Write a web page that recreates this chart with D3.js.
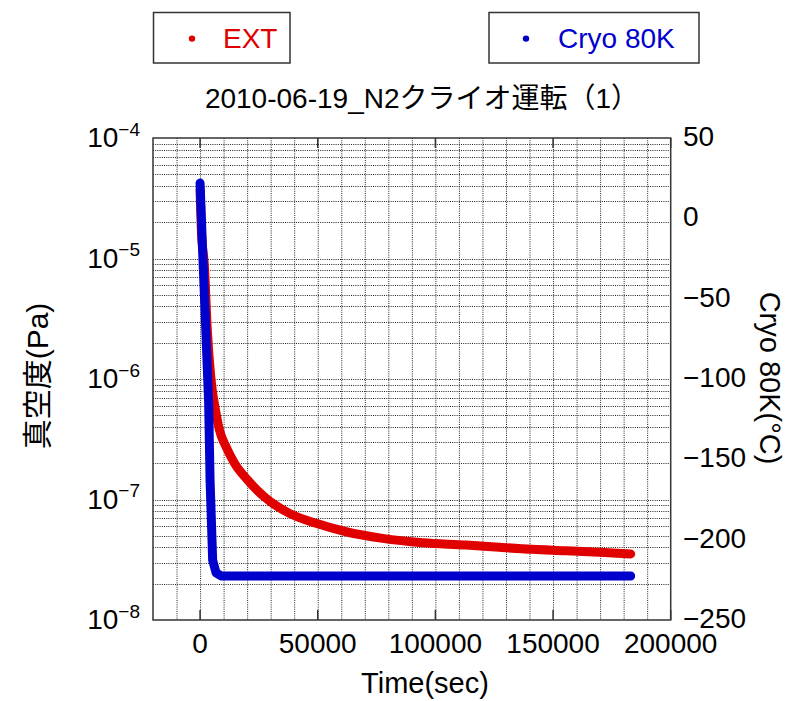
<!DOCTYPE html>
<html>
<head>
<meta charset="utf-8">
<script src="https://cdn.jsdelivr.net/npm/d3@7"></script>
<style>
  html, body { margin: 0; padding: 0; background: #fff; }
  svg text { font-family: "Liberation Sans", Arial, "Noto Sans CJK JP", sans-serif; }
</style>
</head>
<body>
<svg id="chart" width="787" height="701"></svg>
<script>
// ---- data ----
const chartTitle = "2010-06-19_N2クライオ運転（1）";
const seriesNames = ["EXT", "Cryo 80K"];
const seriesColors = ["#e00000", "#0000cc"];

// EXT vacuum pressure (Pa) against elapsed time (sec)
const extTime = [0, 550, 1830, 3100, 4680, 6800, 8200, 11050, 14580, 20230, 27330,
  37960, 49300, 62060, 77620, 94500, 113070, 127220, 141250, 155580, 169730, 183000];
const extPa = [3.7e-5, 1.73e-5, 8.7e-6, 2.5e-6, 9.8e-7, 5.2e-7, 3.8e-7, 2.74e-7, 2.01e-7, 1.45e-7, 1.05e-7,
  7.67e-8, 6.34e-8, 5.40e-8, 4.76e-8, 4.38e-8, 4.19e-8, 4.01e-8, 3.86e-8, 3.76e-8, 3.65e-8, 3.53e-8];

// Cryo 80K stage temperature (°C) against elapsed time (sec)
const cryoTime = [0, 850, 2550, 3650, 4250, 5350, 6800, 9000, 50000, 100000, 150000, 183000];
const cryoC = [22, -11.4, -73.7, -114.9, -162.9, -212.7, -220.7, -222.6, -222.6, -222.6, -222.6, -222.6];

// axis ticks
const xTicks = [0, 50000, 100000, 150000, 200000];
const xGrid = d3.range(-10000, 200000, 10000);
const leftDecades = [-8, -7, -6, -5, -4];
const rightTicks = [50, 0, -50, -100, -150, -200, -250];

// ---- layout ----
const L = 153, R = 670.7, T = 138, B = 620;
const svg = d3.select("#chart");

const x = d3.scaleLinear().domain([-20000, 200000]).range([L, R]);
const yL = d3.scaleLog().domain([1e-8, 1e-4]).range([B, T]);
const yR = d3.scaleLinear().domain([-250, 50]).range([B, T]);

// dotted grid
const grid = svg.append("g")
  .attr("stroke", "#222").attr("stroke-width", 1).attr("stroke-dasharray", "1,1.2");
grid.selectAll("line.v").data(xGrid).join("line")
  .attr("x1", d => x(d) + 0.5).attr("x2", d => x(d) + 0.5)
  .attr("y1", T).attr("y2", B);
const logLines = [];
for (let e = -8; e < -4; e++) {
  for (let m = 1; m <= 9; m++) {
    if (m === 1 && e === -8) continue;
    logLines.push(m * Math.pow(10, e));
  }
}
grid.selectAll("line.h").data(logLines).join("line")
  .attr("x1", L).attr("x2", R)
  .attr("y1", d => Math.round(yL(d)) + 0.5).attr("y2", d => Math.round(yL(d)) + 0.5);

// series
const plot = svg.append("g");
const extLine = d3.line().x((d, i) => x(extTime[i])).y(d => yL(d)).curve(d3.curveMonotoneX);
const cryoLine = d3.line().x((d, i) => x(cryoTime[i])).y(d => yR(d)).curve(d3.curveLinear);
plot.append("path").attr("d", extLine(extPa))
  .attr("fill", "none").attr("stroke", seriesColors[0]).attr("stroke-width", 9)
  .attr("stroke-linecap", "round").attr("stroke-linejoin", "round");
plot.append("path").attr("d", cryoLine(cryoC))
  .attr("fill", "none").attr("stroke", seriesColors[1]).attr("stroke-width", 9)
  .attr("stroke-linecap", "round").attr("stroke-linejoin", "round");

// frame
svg.append("rect").attr("x", L).attr("y", T).attr("width", R - L).attr("height", B - T)
  .attr("fill", "none").attr("stroke", "#333").attr("stroke-width", 1.5);

// x ticks (inside, top and bottom)
const tk = svg.append("g").attr("stroke", "#333").attr("stroke-width", 1.5);
xTicks.forEach(d => {
  tk.append("line").attr("x1", x(d)).attr("x2", x(d)).attr("y1", B).attr("y2", B - 10);
  tk.append("line").attr("x1", x(d)).attr("x2", x(d)).attr("y1", T).attr("y2", T + 10);
});

// tick labels
const fs = 28;
svg.append("g").selectAll("text").data(xTicks).join("text")
  .attr("x", d => x(d)).attr("y", 653).attr("text-anchor", "middle")
  .attr("font-size", fs).attr("fill", "#000").text(d => d3.format("d")(d));

const lt = svg.append("g").selectAll("text").data(leftDecades).join("text")
  .attr("x", 140).attr("y", d => yL(Math.pow(10, d)) + 9).attr("text-anchor", "end")
  .attr("font-size", fs).attr("fill", "#000");
lt.append("tspan").text("10");
lt.append("tspan").attr("dy", -11.5).attr("font-size", 19).text(d => "\u2212" + Math.abs(d));

svg.append("g").selectAll("text").data(rightTicks).join("text")
  .attr("x", 683).attr("y", d => yR(d) + 8)
  .attr("font-size", fs).attr("fill", "#000")
  .text(d => (d < 0 ? "\u2212" : "") + Math.abs(d));

// title and axis titles
svg.append("text").attr("x", 422).attr("y", 108).attr("text-anchor", "middle")
  .attr("font-size", 28).attr("fill", "#000").text(chartTitle);
svg.append("text").attr("x", 425).attr("y", 693).attr("text-anchor", "middle")
  .attr("font-size", 29).attr("fill", "#000").text("Time(sec)");
svg.append("text").attr("transform", "translate(48,376) rotate(-90)").attr("text-anchor", "middle")
  .attr("font-size", 30).attr("fill", "#000").text("真空度(Pa)");
svg.append("text").attr("transform", "translate(760,378) rotate(90)").attr("text-anchor", "middle")
  .attr("font-size", 29).attr("fill", "#000").text("Cryo 80K(°C)");

// legends (two separate boxes)
const legends = [
  { box: [153.5, 12.5, 136.5, 50.5], dot: [192, 38.6], tx: 223 },
  { box: [489, 12.5, 210, 50.5], dot: [526, 38.6], tx: 558 }
];
legends.forEach((lg, i) => {
  const g = svg.append("g");
  g.append("rect").attr("x", lg.box[0]).attr("y", lg.box[1])
    .attr("width", lg.box[2]).attr("height", lg.box[3])
    .attr("fill", "#fff").attr("stroke", "#333").attr("stroke-width", 1.5);
  g.append("circle").attr("cx", lg.dot[0]).attr("cy", lg.dot[1]).attr("r", 3.2)
    .attr("fill", seriesColors[i]);
  g.append("text").attr("x", lg.tx).attr("y", 48).attr("font-size", 28)
    .attr("fill", seriesColors[i]).text(seriesNames[i]);
});
</script>
</body>
</html>
